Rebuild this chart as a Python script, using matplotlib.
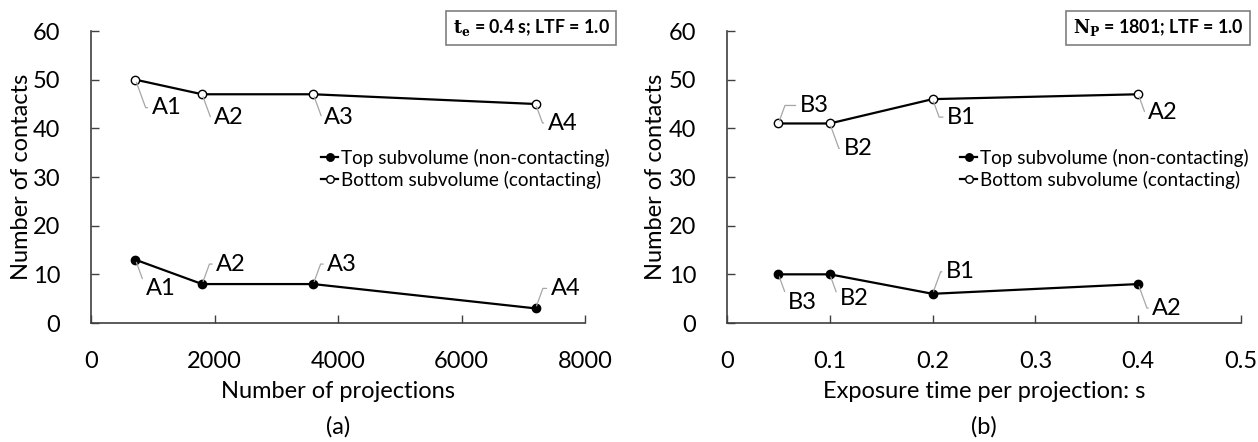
import matplotlib
matplotlib.use("Agg")
import matplotlib.pyplot as plt

plt.rcParams['font.family'] = ['Lato', 'DejaVu Sans']
plt.rcParams['mathtext.fontset'] = 'dejavuserif'

# ---- data ----
proj_x = [720, 1800, 3600, 7200]
proj_top = [13, 8, 8, 3]
proj_bottom = [50, 47, 47, 45]
proj_labels = ["A1", "A2", "A3", "A4"]

exp_x = [0.05, 0.1, 0.2, 0.4]
exp_top = [10, 10, 6, 8]
exp_bottom = [41, 41, 46, 47]
exp_labels = ["B3", "B2", "B1", "A2"]

series_names = ["Top subvolume (non-contacting)", "Bottom subvolume (contacting)"]

# label offsets in pixels (dx, dy), dy positive = up
proj_top_off = [(25, -29), (29, 20), (29, 20), (30, 20)]
proj_bot_off = [(31, -28), (27, -23), (26, -23), (27, -19)]
exp_top_off = [(24, -28), (24, -24), (28, 22), (29, -24)]
exp_bot_off = [(36, 18), (28, -25), (29, -18), (25, -18)]

W, H = 1258, 442
fig = plt.figure(figsize=(W / 100, H / 100), dpi=100)

def px_ax(l, r, t, b):
    return fig.add_axes([l / W, 1 - b / H, (r - l) / W, (b - t) / H])

ax1 = px_ax(91, 585, 31, 323)
ax2 = px_ax(727, 1241, 31, 323)

TICK_FS = 17
LAB_FS = 17
ANN_FS = 17
LEG_FS = 13.6

def annotate(ax, xs, ys, labels, offs):
    for x, y, lab, (dx, dy) in zip(xs, ys, labels, offs):
        angB = 70 if dy > 0 else -70
        ax.annotate(lab, xy=(x, y), xytext=(dx, dy), textcoords='offset pixels',
                    ha='center', va='center', fontsize=ANN_FS, color='black',
                    arrowprops=dict(arrowstyle='-', color='#a6a6a6', lw=0.9,
                                    relpos=(0.0, 0.5), shrinkA=1, shrinkB=2,
                                    connectionstyle=f'angle,angleA=0,angleB={angB},rad=0'),
                    zorder=5)

def draw(ax, xs, top, bot, labels, toff, boff, xlim, xticks, xticklabels):
    l1, = ax.plot(xs, top, '-o', color='black', lw=1.6, ms=6, mfc='black', mec='black', zorder=4)
    l2, = ax.plot(xs, bot, '-o', color='black', lw=1.6, ms=6, mfc='white', mec='black', mew=1.0, zorder=4)
    ax.set_xlim(*xlim)
    ax.set_ylim(0, 60)
    ax.set_yticks(range(0, 61, 10))
    ax.set_xticks(xticks)
    ax.set_xticklabels(xticklabels)
    for s in ['top', 'right']:
        ax.spines[s].set_visible(False)
    for s in ['left', 'bottom']:
        ax.spines[s].set_color('#404040')
        ax.spines[s].set_linewidth(1.2)
    ax.tick_params(axis='both', direction='in', length=6, width=1.0, color='#404040',
                   labelsize=TICK_FS)
    ax.tick_params(axis='x', pad=20)
    ax.tick_params(axis='y', pad=22)
    annotate(ax, xs, top, labels, toff)
    annotate(ax, xs, bot, labels, boff)
    return l1, l2

h1 = draw(ax1, proj_x, proj_top, proj_bottom, proj_labels, proj_top_off, proj_bot_off,
          (0, 8000), [0, 2000, 4000, 6000, 8000], ["0", "2000", "4000", "6000", "8000"])
h2 = draw(ax2, exp_x, exp_top, exp_bottom, exp_labels, exp_top_off, exp_bot_off,
          (0, 0.5), [0, 0.1, 0.2, 0.3, 0.4, 0.5], ["0", "0.1", "0.2", "0.3", "0.4", "0.5"])

for handles, lx in [(h1, 321), (h2, 960)]:
    fig.legend(handles, series_names, loc='center left',
               bbox_to_anchor=(lx / W, 1 - 169 / H), frameon=False, fontsize=LEG_FS,
               handlelength=0.9, handletextpad=0.15, borderpad=0, borderaxespad=0,
               labelspacing=0.2, markerscale=0.9)

# axis titles
fig.text(22 / W, 1 - 177 / H, "Number of contacts", rotation=90, ha='center', va='center', fontsize=LAB_FS)
fig.text(655 / W, 1 - 177 / H, "Number of contacts", rotation=90, ha='center', va='center', fontsize=LAB_FS)
fig.text(338 / W, 1 - 392 / H, "Number of projections", ha='center', va='center', fontsize=LAB_FS)
fig.text(984 / W, 1 - 392 / H, "Exposure time per projection: s", ha='center', va='center', fontsize=LAB_FS)
fig.text(338 / W, 1 - 427 / H, "(a)", ha='center', va='center', fontsize=LAB_FS)
fig.text(984 / W, 1 - 427 / H, "(b)", ha='center', va='center', fontsize=LAB_FS)

# boxes
box = dict(boxstyle='square,pad=0.35', facecolor='white', edgecolor='#7f7f7f', lw=1.2)
fig.text(531 / W, 1 - 28 / H, r"$\mathbf{t_e}$ = 0.4 s; LTF = 1.0", ha='center', va='center',
         fontsize=12.8, fontweight='bold', bbox=box)
fig.text(1158 / W, 1 - 28 / H, r"$\mathbf{N_P}$ = 1801; LTF = 1.0", ha='center', va='center',
         fontsize=12.8, fontweight='bold', bbox=box)

fig.savefig("out.png", dpi=100)
